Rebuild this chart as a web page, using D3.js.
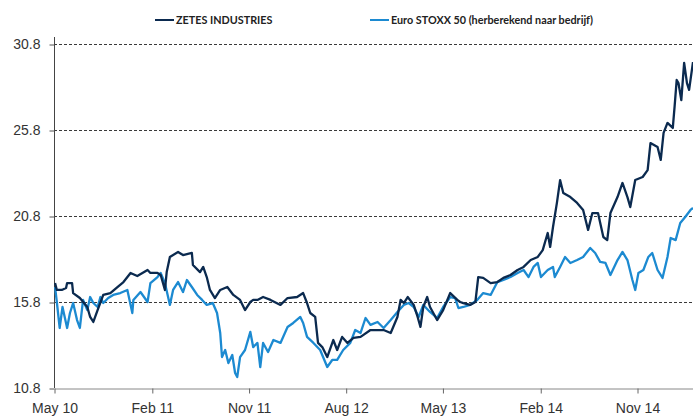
<!DOCTYPE html>
<html>
<head>
<meta charset="utf-8">
<script src="https://cdn.jsdelivr.net/npm/d3@7"></script>
<style>
  body { margin: 0; background: #fff; }
  svg { display: block; font-family: Lato, "Open Sans", sans-serif; }
</style>
</head>
<body>
<svg width="693" height="418"></svg>
<script>
// reeksen: [datum, koers]
const seriesNames = ["ZETES INDUSTRIES", "Euro STOXX 50 (herberekend naar bedrijf)"];
const seriesColors = ["#0b2a4f", "#1c8ad1"];

const zetes = [
  ["2010-05-04", 16.90], ["2010-05-09", 16.50], ["2010-05-23", 16.50], ["2010-06-04", 16.61],
  ["2010-06-07", 16.90], ["2010-06-21", 16.90], ["2010-06-24", 16.32], ["2010-07-13", 16.03],
  ["2010-08-03", 15.51], ["2010-08-11", 14.93], ["2010-08-20", 14.64], ["2010-09-01", 15.33],
  ["2010-09-17", 16.21], ["2010-10-07", 16.32], ["2010-10-27", 16.67], ["2010-11-13", 16.96],
  ["2010-12-03", 17.49], ["2010-12-22", 17.31], ["2011-01-20", 17.66], ["2011-01-28", 17.49],
  ["2011-02-17", 17.49], ["2011-02-26", 17.37], ["2011-03-10", 16.50], ["2011-03-15", 17.54],
  ["2011-03-24", 18.42], ["2011-04-16", 18.71], ["2011-04-30", 18.53], ["2011-05-25", 18.65],
  ["2011-05-28", 17.95], ["2011-06-17", 17.54], ["2011-06-26", 17.84], ["2011-07-06", 17.25],
  ["2011-07-15", 16.50], ["2011-07-29", 16.03], ["2011-08-13", 16.50], ["2011-09-02", 16.67],
  ["2011-09-19", 16.21], ["2011-10-08", 15.92], ["2011-10-22", 15.33], ["2011-11-06", 15.80],
  ["2011-11-14", 15.92], ["2011-11-26", 15.92], ["2011-12-12", 16.09], ["2012-01-02", 15.92],
  ["2012-01-30", 15.63], ["2012-02-19", 16.03], ["2012-03-17", 16.09], ["2012-04-03", 16.32],
  ["2012-04-14", 15.74], ["2012-04-23", 15.16], ["2012-05-07", 14.93], ["2012-05-15", 13.42],
  ["2012-05-27", 13.18], ["2012-06-10", 12.60], ["2012-06-27", 13.59], ["2012-07-08", 13.01],
  ["2012-07-22", 13.77], ["2012-08-06", 13.42], ["2012-08-23", 13.71], ["2012-09-12", 13.77],
  ["2012-10-10", 14.17], ["2012-11-16", 14.17], ["2012-12-06", 14.00], ["2012-12-25", 14.93],
  ["2013-01-03", 15.92], ["2013-01-12", 15.74], ["2013-01-23", 16.09], ["2013-02-09", 15.63],
  ["2013-02-20", 14.93], ["2013-02-28", 14.35], ["2013-03-08", 15.51], ["2013-03-19", 16.09],
  ["2013-03-27", 15.51], ["2013-04-16", 14.75], ["2013-05-03", 15.33], ["2013-05-23", 16.32],
  ["2013-06-12", 15.92], ["2013-06-20", 15.80], ["2013-06-29", 15.74], ["2013-07-18", 15.63],
  ["2013-08-02", 15.80], ["2013-08-10", 17.25], ["2013-08-24", 17.20], ["2013-09-14", 16.90],
  ["2013-10-03", 16.96], ["2013-10-20", 17.20], ["2013-11-09", 17.37], ["2013-11-29", 17.66],
  ["2013-12-16", 17.84], ["2014-01-05", 18.24], ["2014-01-25", 18.42], ["2014-02-08", 18.82],
  ["2014-02-22", 19.81], ["2014-03-01", 19.00], ["2014-03-09", 20.16], ["2014-03-20", 21.56],
  ["2014-03-29", 22.89], ["2014-04-07", 22.14], ["2014-04-27", 21.90], ["2014-05-16", 21.56],
  ["2014-06-02", 21.15], ["2014-06-16", 19.99], ["2014-06-28", 20.97], ["2014-07-14", 20.97],
  ["2014-07-29", 19.58], ["2014-08-09", 19.40], ["2014-08-18", 20.97], ["2014-09-07", 21.90],
  ["2014-09-21", 22.72], ["2014-10-05", 21.90], ["2014-10-13", 21.32], ["2014-10-27", 22.89],
  ["2014-11-17", 23.07], ["2014-12-01", 23.47], ["2014-12-09", 25.04], ["2014-12-29", 24.81],
  ["2015-01-07", 24.06], ["2015-01-15", 25.63], ["2015-01-26", 26.21], ["2015-02-10", 25.92],
  ["2015-02-15", 27.14], ["2015-02-21", 28.71], ["2015-02-26", 28.53], ["2015-03-06", 27.54],
  ["2015-03-14", 29.70], ["2015-03-22", 28.53], ["2015-03-28", 28.13], ["2015-04-06", 29.46],
  ["2015-04-08", 29.75]
];

const stoxx = [
  ["2010-05-04", 16.67], ["2010-05-09", 15.80], ["2010-05-17", 14.29], ["2010-05-25", 15.51],
  ["2010-06-07", 14.29], ["2010-06-15", 15.16], ["2010-06-24", 15.74], ["2010-07-05", 14.75],
  ["2010-07-13", 14.29], ["2010-07-22", 15.92], ["2010-08-03", 15.33], ["2010-08-11", 16.09],
  ["2010-08-20", 15.74], ["2010-09-01", 15.51], ["2010-09-09", 16.09], ["2010-09-17", 15.74],
  ["2010-10-01", 16.03], ["2010-10-15", 16.21], ["2010-11-04", 16.32], ["2010-11-24", 16.50],
  ["2010-12-08", 15.16], ["2010-12-11", 15.92], ["2010-12-31", 16.38], ["2011-01-20", 15.80],
  ["2011-01-28", 16.90], ["2011-02-17", 17.25], ["2011-02-26", 17.49], ["2011-03-10", 16.90],
  ["2011-03-24", 15.63], ["2011-04-02", 16.50], ["2011-04-16", 16.96], ["2011-04-30", 16.38],
  ["2011-05-11", 17.08], ["2011-05-25", 16.67], ["2011-06-09", 16.21], ["2011-06-23", 15.92],
  ["2011-07-06", 15.63], ["2011-07-23", 15.74], ["2011-08-04", 15.16], ["2011-08-13", 14.00],
  ["2011-08-18", 12.60], ["2011-08-27", 13.01], ["2011-09-05", 12.25], ["2011-09-16", 12.72],
  ["2011-09-24", 11.67], ["2011-09-30", 11.44], ["2011-10-08", 12.60], ["2011-10-22", 13.01],
  ["2011-11-06", 14.06], ["2011-11-14", 13.18], ["2011-11-26", 13.42], ["2011-12-04", 12.02],
  ["2011-12-12", 13.42], ["2011-12-26", 12.89], ["2012-01-10", 13.59], ["2012-01-30", 13.42],
  ["2012-02-19", 14.35], ["2012-03-06", 14.58], ["2012-03-26", 14.93], ["2012-04-03", 14.58],
  ["2012-04-14", 13.77], ["2012-05-02", 13.42], ["2012-05-21", 13.01], ["2012-06-10", 12.02],
  ["2012-06-24", 12.43], ["2012-07-08", 12.43], ["2012-07-25", 13.01], ["2012-08-14", 13.42],
  ["2012-08-28", 14.17], ["2012-09-12", 14.00], ["2012-09-26", 14.87], ["2012-10-10", 14.47],
  ["2012-10-30", 14.64], ["2012-11-16", 14.29], ["2012-12-06", 14.75], ["2012-12-25", 15.22],
  ["2013-01-12", 15.63], ["2013-01-26", 15.74], ["2013-02-09", 15.51], ["2013-02-23", 14.93],
  ["2013-03-08", 15.63], ["2013-03-27", 15.22], ["2013-04-16", 14.87], ["2013-05-03", 15.51],
  ["2013-05-23", 16.09], ["2013-06-06", 16.03], ["2013-06-15", 15.45], ["2013-06-29", 15.51],
  ["2013-07-18", 15.63], ["2013-08-07", 15.92], ["2013-08-24", 16.32], ["2013-09-14", 16.21],
  ["2013-10-03", 16.96], ["2013-10-20", 17.08], ["2013-11-09", 17.25], ["2013-11-29", 17.49],
  ["2013-12-16", 17.66], ["2013-12-30", 17.25], ["2014-01-13", 17.84], ["2014-01-25", 18.07],
  ["2014-02-03", 17.25], ["2014-02-22", 17.66], ["2014-03-09", 17.84], ["2014-03-14", 17.25],
  ["2014-03-29", 17.84], ["2014-04-12", 18.42], ["2014-04-27", 18.07], ["2014-05-16", 18.24],
  ["2014-06-02", 18.42], ["2014-06-22", 18.94], ["2014-07-06", 18.65], ["2014-07-20", 18.13],
  ["2014-08-04", 18.07], ["2014-08-18", 17.37], ["2014-09-07", 18.24], ["2014-09-21", 18.71],
  ["2014-10-05", 18.24], ["2014-10-19", 17.08], ["2014-10-27", 16.50], ["2014-11-05", 17.49],
  ["2014-11-19", 17.66], ["2014-12-03", 18.42], ["2014-12-14", 18.65], ["2014-12-29", 17.66],
  ["2015-01-12", 17.20], ["2015-01-26", 18.42], ["2015-02-04", 19.52], ["2015-02-18", 19.40],
  ["2015-03-03", 20.39], ["2015-03-17", 20.74], ["2015-04-01", 21.15], ["2015-04-08", 21.27]
];

const yTicks = [10.8, 15.8, 20.8, 25.8, 30.8];
const xTicks = ["2010-05-01", "2011-02-01", "2011-11-01", "2012-08-01", "2013-05-01", "2014-02-01", "2014-11-01"];
const xDomain = ["2010-05-01", "2015-04-08"];

const parse = d3.timeParse("%Y-%m-%d");
const svg = d3.select("svg");

const area = { left: 54, right: 693, top: 44, bottom: 388 };

const scX = d3.scaleTime()
    .domain(xDomain.map(parse))
    .range([area.left, area.right]);

const scY = d3.scaleLinear()
    .domain([10.8, 30.8])
    .range([area.bottom, area.top]);

// rasterlijnen
svg.append("g")
    .selectAll("line")
    .data(yTicks.slice(1))
    .enter()
    .append("line")
    .attr("x1", area.left)
    .attr("x2", area.right)
    .attr("y1", d => scY(d) + 0.5)
    .attr("y2", d => scY(d) + 0.5)
    .attr("stroke", "#3a3a3a")
    .attr("stroke-width", 1)
    .attr("stroke-dasharray", "3,2");

// y-as
const axisY = d3.axisLeft(scY)
    .tickValues(yTicks)
    .tickFormat(d3.format(".1f"))
    .tickSize(5)
    .tickSizeOuter(0);

const gY = svg.append("g")
    .attr("transform", `translate(${area.left + 0.5}, 0.5)`)
    .call(axisY);
gY.select(".domain").remove();
gY.selectAll(".tick line").attr("stroke", "#555");
gY.selectAll("text")
    .attr("x", -14)
    .style("font-size", "14px")
    .style("fill", "#333");

svg.append("line")
    .attr("x1", area.left + 0.5)
    .attr("x2", area.left + 0.5)
    .attr("y1", 37)
    .attr("y2", area.bottom)
    .attr("stroke", "#444");

// x-as
const axisX = d3.axisBottom(scX)
    .tickValues(xTicks.map(parse))
    .tickFormat(d3.timeFormat("%b %y"))
    .tickSize(5)
    .tickSizeOuter(0);

const gX = svg.append("g")
    .attr("transform", `translate(0.5, ${area.bottom + 0.5})`)
    .call(axisX);
gX.select(".domain").attr("stroke", "#888");
gX.selectAll(".tick line").attr("stroke", "#666");
gX.selectAll("text")
    .attr("y", 15)
    .style("font-size", "14px")
    .style("fill", "#333");

// lijnen (Euro STOXX eerst, ZETES erboven)
const line = d3.line()
    .x(d => scX(parse(d[0])))
    .y(d => scY(d[1]));

[[stoxx, 1], [zetes, 0]].forEach(([data, idx]) => {
    svg.append("path")
        .datum(data)
        .attr("fill", "none")
        .attr("stroke", seriesColors[idx])
        .attr("stroke-width", 2.3)
        .attr("stroke-linejoin", "round")
        .attr("d", line);
});

// legende
const legendX = [155, 370];
const legend = svg.append("g");
seriesNames.forEach((name, i) => {
    legend.append("line")
        .attr("x1", legendX[i])
        .attr("x2", legendX[i] + 19)
        .attr("y1", 20)
        .attr("y2", 20)
        .attr("stroke", seriesColors[i])
        .attr("stroke-width", 2);
    legend.append("text")
        .attr("x", legendX[i] + 21)
        .attr("y", 20)
        .attr("dy", "0.35em")
        .style("font-size", "10.8px")
        .style("font-weight", "bold")
        .style("fill", "#222")
        .text(name);
});
</script>
</body>
</html>
